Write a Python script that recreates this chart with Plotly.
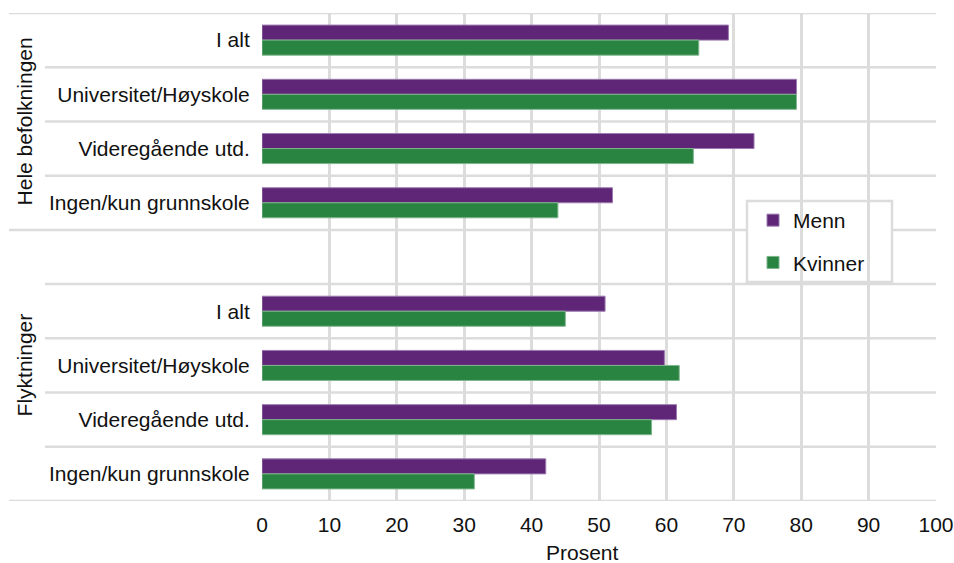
import plotly.graph_objects as go

groups = ["Hele befolkningen", "Flyktninger"]
categories = ["I alt", "Universitet/Høyskole", "Videregående utd.", "Ingen/kun grunnskole"]
menn_hele = [69.2, 79.3, 73.0, 52.0]
kvinner_hele = [64.8, 79.3, 64.0, 43.9]
menn_flykt = [50.9, 59.7, 61.5, 42.1]
kvinner_flykt = [45.0, 61.9, 57.8, 31.5]
x_ticks = [0, 10, 20, 30, 40, 50, 60, 70, 80, 90, 100]

# row positions: group 1 rows 0..3, empty row 4, group 2 rows 5..8
pos_hele = list(range(len(categories)))
pos_flykt = [p + len(categories) + 1 for p in pos_hele]
ypos = pos_hele + pos_flykt
ylabels = categories + categories

PURPLE = "#5f2678"
GREEN = "#298341"
GRID = "#dcdcdc"
FONT = "Liberation Sans, Arial, sans-serif"

fig = go.Figure()
fig.add_trace(go.Bar(
    name="Menn", orientation="h", y=ypos, x=menn_hele + menn_flykt,
    marker=dict(color=PURPLE, line=dict(color="#9b7aae", width=1)),
    legendgroup="m",
))
fig.add_trace(go.Bar(
    name="Kvinner", orientation="h", y=ypos, x=kvinner_hele + kvinner_flykt,
    marker=dict(color=GREEN, line=dict(color="#7fb58d", width=1)),
    legendgroup="k",
))

n_rows = 2 * len(categories) + 1
W, H = 954, 563
L, T, R, B = 262, 13, 18, 62
pw = W - L - R
ph = H - T - B


def px_x(x):
    return (x - L) / pw


def px_y(y):
    return 1 - (y - T) / ph


shapes = []
# row separators
for i in range(n_rows + 1):
    yv = i - 0.5
    full = i in (0, len(categories), n_rows)
    x0 = px_x(9 if full else 45)
    shapes.append(dict(type="line", xref="paper", yref="y", x0=x0, x1=1,
                       y0=yv, y1=yv, line=dict(color=GRID, width=2.5), layer="below"))
# legend frame
shapes.append(dict(type="rect", xref="paper", yref="paper",
                   x0=px_x(747), x1=px_x(892), y0=px_y(282), y1=px_y(201),
                   line=dict(color=GRID, width=2.5), fillcolor="white", layer="between"))

annotations = [
    dict(text=groups[0], xref="paper", yref="y", x=px_x(24), y=(len(categories) - 1) / 2,
         xanchor="center", yanchor="middle",
         showarrow=False, textangle=-90, font=dict(size=21, color="#111", family=FONT)),
    dict(text=groups[1], xref="paper", yref="y", x=px_x(24),
         y=(len(categories) - 0.5 + n_rows - 0.5) / 2,
         xanchor="center", yanchor="middle",
         showarrow=False, textangle=-90, font=dict(size=21, color="#111", family=FONT)),
    dict(text="Prosent", xref="paper", yref="paper", x=px_x(582), y=px_y(539),
         xanchor="center", yanchor="top", showarrow=False,
         font=dict(size=21, color="#111", family=FONT)),
]

fig.update_layout(
    width=W, height=H,
    margin=dict(l=L, r=R, t=T, b=B, autoexpand=False),
    paper_bgcolor="white", plot_bgcolor="white",
    barmode="group", bargap=0.446, bargroupgap=0,
    hovermode=False,
    font=dict(family=FONT, size=21, color="#111"),
    shapes=shapes, annotations=annotations,
    legend=dict(
        x=px_x(753), y=px_y(200), xanchor="left", yanchor="top",
        bgcolor="rgba(0,0,0,0)", borderwidth=0,
        font=dict(size=21, family=FONT, color="#111"),
        traceorder="grouped", tracegroupgap=12,
    ),
    xaxis=dict(range=[0, 100], tickvals=x_ticks, showgrid=True, gridcolor=GRID, gridwidth=2.5,
               zeroline=False, showline=False, ticks="outside", ticklen=5, tickcolor="rgba(0,0,0,0)",
               tickfont=dict(size=21, family=FONT, color="#111"), automargin=False),
    yaxis=dict(range=[n_rows - 0.5, -0.5], tickvals=ypos, ticktext=ylabels, showgrid=False,
               zeroline=False, showline=False, ticks="outside", ticklen=7, tickcolor="rgba(0,0,0,0)",
               tickfont=dict(size=21, family=FONT, color="#111"), automargin=False),
)

fig.write_html(
    "out.html",
    config={"displayModeBar": False},
    post_script="document.body.style.margin='0';document.body.style.overflow='hidden';",
)
